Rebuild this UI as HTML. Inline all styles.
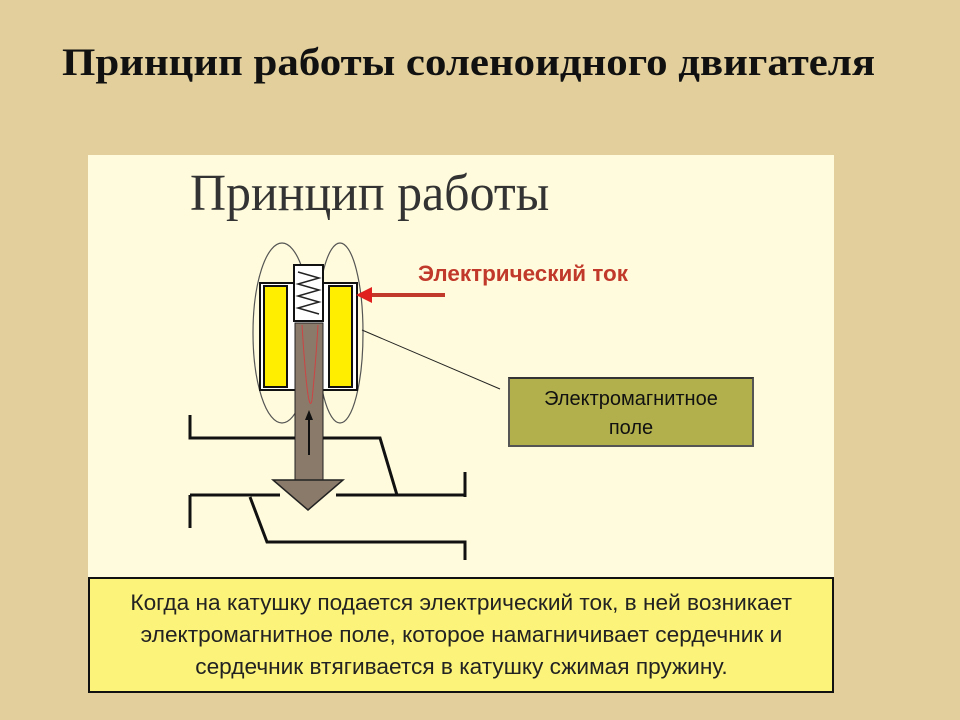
<!DOCTYPE html>
<html><head><meta charset="utf-8"><style>
body{margin:0;width:960px;height:720px;background:#e2cf9b;position:relative;overflow:hidden;font-family:"Liberation Sans",sans-serif}
.h{position:absolute;left:62px;top:40px;font:bold 39px "Liberation Serif",serif;color:#111;white-space:nowrap;transform:scaleX(1.1);transform-origin:left}
.panel{position:absolute;left:88px;top:155px;width:746px;height:538px;background:#fffbdc}
.t{position:absolute;left:190px;top:164px;font:52px "Liberation Serif",serif;color:#333;transform:scaleX(0.96);transform-origin:left;white-space:nowrap}
.bot{position:absolute;left:88px;top:577px;width:742px;height:104px;background:#fbf37a;border:2px solid #111;text-align:center;font-size:22px;line-height:32px;color:#222;padding-top:8px;box-sizing:content-box}
.bot span{display:inline-block;transform:scaleX(1.03);white-space:nowrap}
.g{position:absolute;left:508px;top:377px;width:246px;height:70px;background:#b1b04c;border:2px solid #555;border-top-color:#333;text-align:center;font-size:20px;line-height:29px;color:#111;padding-top:6px;box-sizing:border-box}
.r{position:absolute;left:418px;top:261px;font:bold 22px "Liberation Sans",sans-serif;color:#c0392b;transform:scaleX(1.02);transform-origin:left;white-space:nowrap}
</style></head><body>
<div class="h">Принцип работы соленоидного двигателя</div>
<div class="panel"></div>
<div class="t">Принцип работы</div>
<svg style="position:absolute;left:0;top:0" width="960" height="720">
<g fill="none" stroke="#555" stroke-width="1.2">
<ellipse cx="282" cy="333" rx="29" ry="90"/>
<ellipse cx="340" cy="333" rx="23" ry="90"/>
</g>
<rect x="260" y="283" width="97" height="107" fill="#fff" stroke="#111" stroke-width="2"/>
<rect x="264" y="286" width="23" height="101" fill="#ffee00" stroke="#111" stroke-width="2"/>
<rect x="329" y="286" width="23" height="101" fill="#ffee00" stroke="#111" stroke-width="2"/>
<rect x="294" y="265" width="29" height="56" fill="#fff" stroke="#111" stroke-width="2"/>
<polyline points="298,272 319,278 298,284 319,290 298,296 319,302 298,308 319,314" fill="none" stroke="#222" stroke-width="1.5"/>
<rect x="295" y="323" width="28" height="160" fill="#8a7a6a" stroke="#222" stroke-width="1"/>
<path d="M302,325 Q308,420 312,400 Q316,360 318,325" fill="none" stroke="#c44" stroke-width="1"/>
<line x1="309" y1="455" x2="309" y2="418" stroke="#111" stroke-width="2"/>
<polygon points="309,410 305,420 313,420" fill="#111"/>
<polygon points="273,480 343,480 308,510" fill="#8a7a6a" stroke="#222" stroke-width="1.5"/>
<g fill="none" stroke="#111" stroke-width="3">
<polyline points="190,415 190,438 295,438"/>
<polyline points="323,438 380,438 397,495 465,495"/>
<line x1="465" y1="472" x2="465" y2="497"/>
<polyline points="190,495 280,495"/>
<polyline points="336,495 397,495"/>
<line x1="190" y1="495" x2="190" y2="528"/>
<polyline points="250,497 267,542 465,542 465,560"/>
</g>
<line x1="445" y1="295" x2="370" y2="295" stroke="#c0392b" stroke-width="4"/>
<polygon points="356,295 372,287 372,303" fill="#e0201f"/>
<line x1="362" y1="330" x2="500" y2="389" stroke="#222" stroke-width="1"/>
</svg>
<div class="r">Электрический ток</div>
<div class="g">Электромагнитное<br>поле</div>
<div class="bot"><span>Когда на катушку подается электрический ток, в ней возникает</span><br><span>электромагнитное поле, которое намагничивает сердечник и</span><br><span>сердечник втягивается в катушку сжимая пружину.</span></div>
</body></html>
